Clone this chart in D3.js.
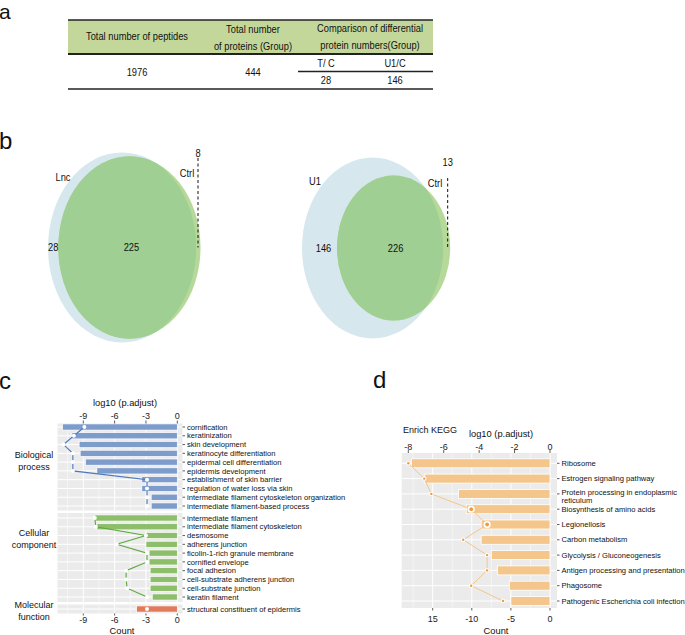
<!DOCTYPE html>
<html><head><meta charset="utf-8">
<script src="https://cdn.jsdelivr.net/npm/d3@7"></script>
<style>body{margin:0;background:#fff}svg{display:block}</style>
</head><body>
<svg id="chart" width="685" height="635"></svg>
<script>
// ---------------- DATA ----------------
const tableHeader1 = ["Total number of peptides"];
const tableHeader2 = ["Total number", "of proteins  (Group)"];
const tableHeader3 = ["Comparison of differential", "protein numbers(Group)"];
const totalPeptides = "1976";
const totalProteins = "444";
const comparisonLabels = ["T/ C", "U1/C"];
const comparisonCounts = ["28", "146"];

const vennSetA = ["Lnc", "U1"];
const vennSetB = ["Ctrl", "Ctrl"];
const vennOnlyA = [28, 146];
const vennBoth = [225, 226];
const vennOnlyB = [8, 13];

const bpTerms = ["cornification", "keratinization", "skin development", "keratinocyte differentiation",
  "epidermal cell differentiation", "epidermis development", "establishment of skin barrier",
  "regulation of water loss via skin", "intermediate filament cytoskeleton organization",
  "intermediate filament-based process"];
const bpCount = [-11.0, -10.1, -9.4, -9.3, -8.8, -7.7, -3.4, -3.4, -2.5, -2.5];
const bpLogP = [-8.9, -9.9, -10.9, -10.0, -10.0, -10.0, -2.9, -2.9, -2.9, -2.9];

const ccTerms = ["intermediate filament", "intermediate filament cytoskeleton", "desmosome",
  "adherens junction", "ficolin-1-rich granule membrane", "cornified envelope", "focal adhesion",
  "cell-substrate adherens junction", "cell-substrate junction", "keratin filament"];
const ccCount = [-7.9, -7.7, -3.0, -3.0, -2.7, -2.7, -2.6, -2.6, -2.6, -2.4];
const ccLogP = [-7.9, -7.8, -3.0, -5.8, -2.9, -2.9, -4.9, -4.9, -4.8, -2.9];

const mfTerms = ["structural constituent of epidermis"];
const mfCount = [-3.9];
const mfLogP = [-2.9];

const goTicks = [-9, -6, -3, 0];
const goMinor = [-10.5, -7.5, -4.5, -1.5];

const keggTerms = ["Ribosome", "Estrogen signaling pathway", "Protein processing in endoplasmic\nreticulum",
  "Biosynthesis of amino acids", "Legionellosis", "Carbon metabolism", "Glycolysis / Gluconeogenesis",
  "Antigen processing and presentation", "Phagosome", "Pathogenic Escherichia coli infection"];
const keggCount = [-17.7, -16.0, -11.7, -10.7, -8.8, -8.8, -7.5, -6.7, -5.2, -5.0];
const keggLogP = [-8.0, -7.1, -6.7, -4.45, -3.55, -4.9, -3.55, -3.55, -4.45, -2.65];
const keggPointSize = [1, 1, 1, 2, 2, 1, 1, 1, 1, 1];
const keggCountTicks = [-15, -10, -5, 0];
const keggCountTickLabels = ["15", "-10", "-5", "0"];
const keggCountMinor = [-17.5, -12.5, -7.5, -2.5];
const keggPTicks = [-8, -6, -4, -2, 0];

// ---------------- HELPERS ----------------
const svg = d3.select("#chart");
const FONT = "'Liberation Sans', Arial, sans-serif";
const NARROW = "'Liberation Sans Narrow', 'Arial Narrow', 'Liberation Sans', Arial, sans-serif";

function text(g, x, y, s, o = {}) {
  return g.append("text").attr("x", x).attr("y", y)
    .attr("font-family", o.family || FONT).attr("font-size", o.size || 9)
    .attr("text-anchor", o.anchor || "start").attr("dy", o.dy == null ? "0.35em" : o.dy)
    .attr("fill", o.fill || "#111").text(s);
}

let narrowScale = 1;
(function () {
  const t = svg.append("text").attr("font-family", NARROW).attr("font-size", 11).text("Total number of peptides");
  const w = t.node().getComputedTextLength();
  t.remove();
  narrowScale = Math.min(1, 102 / w);
})();
function ntext(g, x, y, s, size = 11, anchor = "middle") {
  const gg = g.append("g").attr("transform", `translate(${x},${y}) scale(${narrowScale},1)`);
  gg.append("text").attr("x", 0).attr("y", 0).attr("font-family", NARROW).attr("font-size", size)
    .attr("text-anchor", anchor).attr("dy", "0.35em").attr("fill", "#111").text(s);
  return gg;
}

// panel letters
[["a", -1, 18.5, 21], ["b", -1, 149, 24], ["c", -1, 389, 24], ["d", 373, 388, 24]].forEach(([l, x, y, s]) =>
  text(svg, x, y, l, { size: s, dy: 0 }));

// ---------------- PANEL A: table ----------------
(function () {
  const g = svg.append("g");
  const L = 68, R = 433, T = 20, HB = 54, SUB = 71.5, B = 89, subX = 298;
  g.append("rect").attr("x", L).attr("y", T).attr("width", R - L).attr("height", HB - T).attr("fill", "#c4d79b");
  g.append("line").attr("x1", L).attr("x2", R).attr("y1", T).attr("y2", T).attr("stroke", "#222").attr("stroke-width", 1.4);
  g.append("line").attr("x1", L).attr("x2", R).attr("y1", HB).attr("y2", HB).attr("stroke", "#222").attr("stroke-width", 1.8);
  g.append("line").attr("x1", subX).attr("x2", R).attr("y1", SUB).attr("y2", SUB).attr("stroke", "#222").attr("stroke-width", 1.3);
  g.append("line").attr("x1", L).attr("x2", R).attr("y1", B).attr("y2", B).attr("stroke", "#222").attr("stroke-width", 1.5);
  const colX = [137, 253, 370], subCols = [326, 395];
  ntext(g, colX[0], 36, tableHeader1[0]);
  tableHeader2.forEach((s, i) => ntext(g, colX[1], 29 + i * 17.5, s));
  tableHeader3.forEach((s, i) => ntext(g, colX[2], 28.5 + i * 17, s));
  ntext(g, colX[0], 72, totalPeptides);
  ntext(g, colX[1], 72, totalProteins);
  comparisonLabels.forEach((s, i) => ntext(g, subCols[i], 63, s));
  comparisonCounts.forEach((s, i) => ntext(g, subCols[i], 80.5, s));
})();

// ---------------- PANEL B: venns ----------------
(function () {
  const defs = svg.append("defs");
  const aspect = 0.78;
  const layouts = [
    { leftEdge: 48, cy: 247.5, rmax: 95, dashTop: 158, numY: 153, aLab: [63, 177], bLab: [187, 173] },
    { leftEdge: 302, cy: 248, rmax: 90.5, dashTop: 178, numY: 162, aLab: [315, 181], bLab: [435, 183] }
  ];
  const gapScale = d3.scaleLinear().domain([0, 13]).range([0, 7]);
  layouts.forEach((L, i) => {
    const sizeA = vennOnlyA[i] + vennBoth[i], sizeB = vennOnlyB[i] + vennBoth[i];
    const rs = d3.scaleSqrt().domain([0, Math.max(sizeA, sizeB)]).range([0, L.rmax]);
    const ryA = rs(sizeA), rxA = ryA * aspect, ryB = rs(sizeB), rxB = ryB * aspect;
    const cxA = L.leftEdge + rxA;
    const rightB = cxA + rxA + gapScale(vennOnlyB[i]);
    const cxB = rightB - rxB;
    const g = svg.append("g");
    const cid = "clipA" + i;
    defs.append("clipPath").attr("id", cid).append("ellipse")
      .attr("cx", cxA).attr("cy", L.cy).attr("rx", rxA).attr("ry", ryA);
    g.append("ellipse").attr("cx", cxA).attr("cy", L.cy).attr("rx", rxA).attr("ry", ryA).attr("fill", "#d6e8ee");
    g.append("ellipse").attr("cx", cxB).attr("cy", L.cy).attr("rx", rxB).attr("ry", ryB).attr("fill", "#b6d99a");
    g.append("ellipse").attr("cx", cxB).attr("cy", L.cy).attr("rx", rxB).attr("ry", ryB).attr("fill", "#9fcf92")
      .attr("clip-path", `url(#${cid})`);
    const dashX = rightB - 2.5;
    g.append("line").attr("x1", dashX).attr("x2", dashX).attr("y1", L.dashTop).attr("y2", L.cy)
      .attr("stroke", "#111").attr("stroke-width", 1).attr("stroke-dasharray", "3,2.5");
    ntext(g, dashX, L.numY, String(vennOnlyB[i]));
    ntext(g, L.aLab[0], L.aLab[1], vennSetA[i]);
    ntext(g, L.bLab[0], L.bLab[1], vennSetB[i]);
    const leftB = cxB - rxB;
    ntext(g, (L.leftEdge + leftB) / 2 + (i ? 4 : 0), L.cy, String(vennOnlyA[i]));
    ntext(g, cxB + 2, L.cy, String(vennBoth[i]));
  });
})();

// ---------------- PANEL C: GO ----------------
(function () {
  const g = svg.append("g");
  const x = d3.scaleLinear().domain([-9, 0]).range([83.3, 177.3]);
  const px0 = 57.5, px1 = 182.5;
  const facets = [
    { terms: bpTerms, count: bpCount, logp: bpLogP, range: [427, 506], top: 423.5, bot: 510.5, fill: "#7d9ccc", line: "#4a78bd", strip: ["Biological", "process"], sy: 455 },
    { terms: ccTerms, count: ccCount, logp: ccLogP, range: [518, 597], top: 513, bot: 602, fill: "#8dbf6b", line: "#5aa83c", strip: ["Cellular", "component"], sy: 533 },
    { terms: mfTerms, count: mfCount, logp: mfLogP, range: [609, 609], top: 604.5, bot: 613.5, fill: "#e07b5b", line: "#e07b5b", strip: ["Molecular", "function"], sy: 605 }
  ];
  facets.forEach(f => {
    const y = d3.scalePoint().domain(f.terms).range(f.range);
    g.append("rect").attr("x", px0).attr("y", f.top).attr("width", px1 - px0).attr("height", f.bot - f.top).attr("fill", "#ebebeb");
    goMinor.forEach(v => g.append("line").attr("x1", x(v)).attr("x2", x(v)).attr("y1", f.top).attr("y2", f.bot).attr("stroke", "#fff").attr("stroke-width", 0.5));
    goTicks.forEach(v => g.append("line").attr("x1", x(v)).attr("x2", x(v)).attr("y1", f.top).attr("y2", f.bot).attr("stroke", "#fff").attr("stroke-width", 1));
    f.terms.forEach(t => g.append("line").attr("x1", px0).attr("x2", px1).attr("y1", y(t)).attr("y2", y(t)).attr("stroke", "#fff").attr("stroke-width", 1));
    const bh = 6.2;
    g.selectAll(null).data(f.terms).enter().append("rect")
      .attr("x", (t, i) => x(f.count[i])).attr("width", (t, i) => x(0) - x(f.count[i]))
      .attr("y", t => y(t) - bh / 2).attr("height", bh)
      .attr("fill", f.fill).attr("stroke", "#fff").attr("stroke-width", 0.7);
    const pts = f.terms.map((t, i) => [x(f.logp[i]), y(t)]);
    if (pts.length > 1) g.append("path").attr("d", d3.line()(pts)).attr("fill", "none").attr("stroke", f.line).attr("stroke-width", 1.1);
    pts.forEach(p => g.append("circle").attr("cx", p[0]).attr("cy", p[1]).attr("r", 2).attr("fill", "#fff"));
    f.terms.forEach(t => {
      g.append("line").attr("x1", px1).attr("x2", px1 + 2.5).attr("y1", y(t)).attr("y2", y(t)).attr("stroke", "#333").attr("stroke-width", 0.8);
      text(g, px1 + 4.5, y(t), t, { size: 7.6 });
    });
    f.strip.forEach((s, i) => text(g, 34, f.sy + i * 11.5, s, { size: 9, anchor: "middle" }));
  });
  text(g, 125, 406, "log10 (p.adjust)", { size: 9.3, anchor: "middle", dy: 0 });
  goTicks.forEach(v => {
    text(g, x(v), 418.5, String(v), { size: 9, anchor: "middle", dy: 0, fill: "#222" });
    g.append("line").attr("x1", x(v)).attr("x2", x(v)).attr("y1", 420.5).attr("y2", 423.5).attr("stroke", "#333").attr("stroke-width", 0.8);
  });
  goTicks.forEach(v => {
    text(g, x(v), 622.5, String(v), { size: 9, anchor: "middle", dy: 0, fill: "#222" });
    g.append("line").attr("x1", x(v)).attr("x2", x(v)).attr("y1", 613.5).attr("y2", 615.5).attr("stroke", "#333").attr("stroke-width", 0.8);
  });
  text(g, 122, 634, "Count", { size: 9.3, anchor: "middle", dy: 0 });
})();

// ---------------- PANEL D: KEGG ----------------
(function () {
  const g = svg.append("g");
  const xc = d3.scaleLinear().domain([-15, 0]).range([432.7, 550]);
  const xp = d3.scaleLinear().domain([-8, 0]).range([408.3, 550]);
  const px0 = 401.7, px1 = 557, top = 453, bot = 608;
  const y = d3.scalePoint().domain(keggTerms).range([463.3, 601]);
  g.append("rect").attr("x", px0).attr("y", top).attr("width", px1 - px0).attr("height", bot - top).attr("fill", "#ebebeb");
  keggCountMinor.forEach(v => g.append("line").attr("x1", xc(v)).attr("x2", xc(v)).attr("y1", top).attr("y2", bot).attr("stroke", "#fff").attr("stroke-width", 0.5));
  keggCountTicks.forEach(v => g.append("line").attr("x1", xc(v)).attr("x2", xc(v)).attr("y1", top).attr("y2", bot).attr("stroke", "#fff").attr("stroke-width", 1));
  keggTerms.forEach(t => g.append("line").attr("x1", px0).attr("x2", px1).attr("y1", y(t)).attr("y2", y(t)).attr("stroke", "#fff").attr("stroke-width", 1));
  const bh = 9;
  g.selectAll(null).data(keggTerms).enter().append("rect")
    .attr("x", (t, i) => xc(keggCount[i])).attr("width", (t, i) => xc(0) - xc(keggCount[i]))
    .attr("y", t => y(t) - bh / 2).attr("height", bh)
    .attr("fill", "#f5c68b").attr("stroke", "#fff").attr("stroke-width", 0.8);
  const pts = keggTerms.map((t, i) => [xp(keggLogP[i]), y(t)]);
  g.append("path").attr("d", d3.line()(pts)).attr("fill", "none").attr("stroke", "#f5c68b").attr("stroke-width", 1);
  pts.forEach((p, i) => {
    const big = keggPointSize[i] > 1;
    g.append("circle").attr("cx", p[0]).attr("cy", p[1]).attr("r", big ? 3.6 : 2.2).attr("fill", "#fff");
    g.append("circle").attr("cx", p[0]).attr("cy", p[1]).attr("r", big ? 1.9 : 1.2).attr("fill", "#f29a3f");
  });
  keggTerms.forEach(t => {
    g.append("line").attr("x1", px1).attr("x2", px1 + 2.5).attr("y1", y(t)).attr("y2", y(t)).attr("stroke", "#333").attr("stroke-width", 0.8);
    const lines = t.split("\n");
    const off = lines.length > 1 ? -2 : 0;
    lines.forEach((s, k) => text(g, px1 + 4.5, y(t) + off + k * 8.4, s, { size: 7.6 }));
  });
  text(g, 403, 433, "Enrich KEGG", { size: 9, dy: 0 });
  text(g, 501, 437, "log10 (p.adjust)", { size: 9.3, anchor: "middle", dy: 0 });
  keggPTicks.forEach(v => {
    text(g, xp(v), 449.5, String(v), { size: 9, anchor: "middle", dy: 0, fill: "#222" });
    g.append("line").attr("x1", xp(v)).attr("x2", xp(v)).attr("y1", 450).attr("y2", 453).attr("stroke", "#333").attr("stroke-width", 0.8);
  });
  keggCountTicks.forEach((v, i) => {
    text(g, xc(v), 622, keggCountTickLabels[i], { size: 9, anchor: "middle", dy: 0, fill: "#222" });
    g.append("line").attr("x1", xc(v)).attr("x2", xc(v)).attr("y1", 608).attr("y2", 610.5).attr("stroke", "#333").attr("stroke-width", 0.8);
  });
  text(g, 496, 634, "Count", { size: 9.3, anchor: "middle", dy: 0 });
})();
</script>
</body></html>
